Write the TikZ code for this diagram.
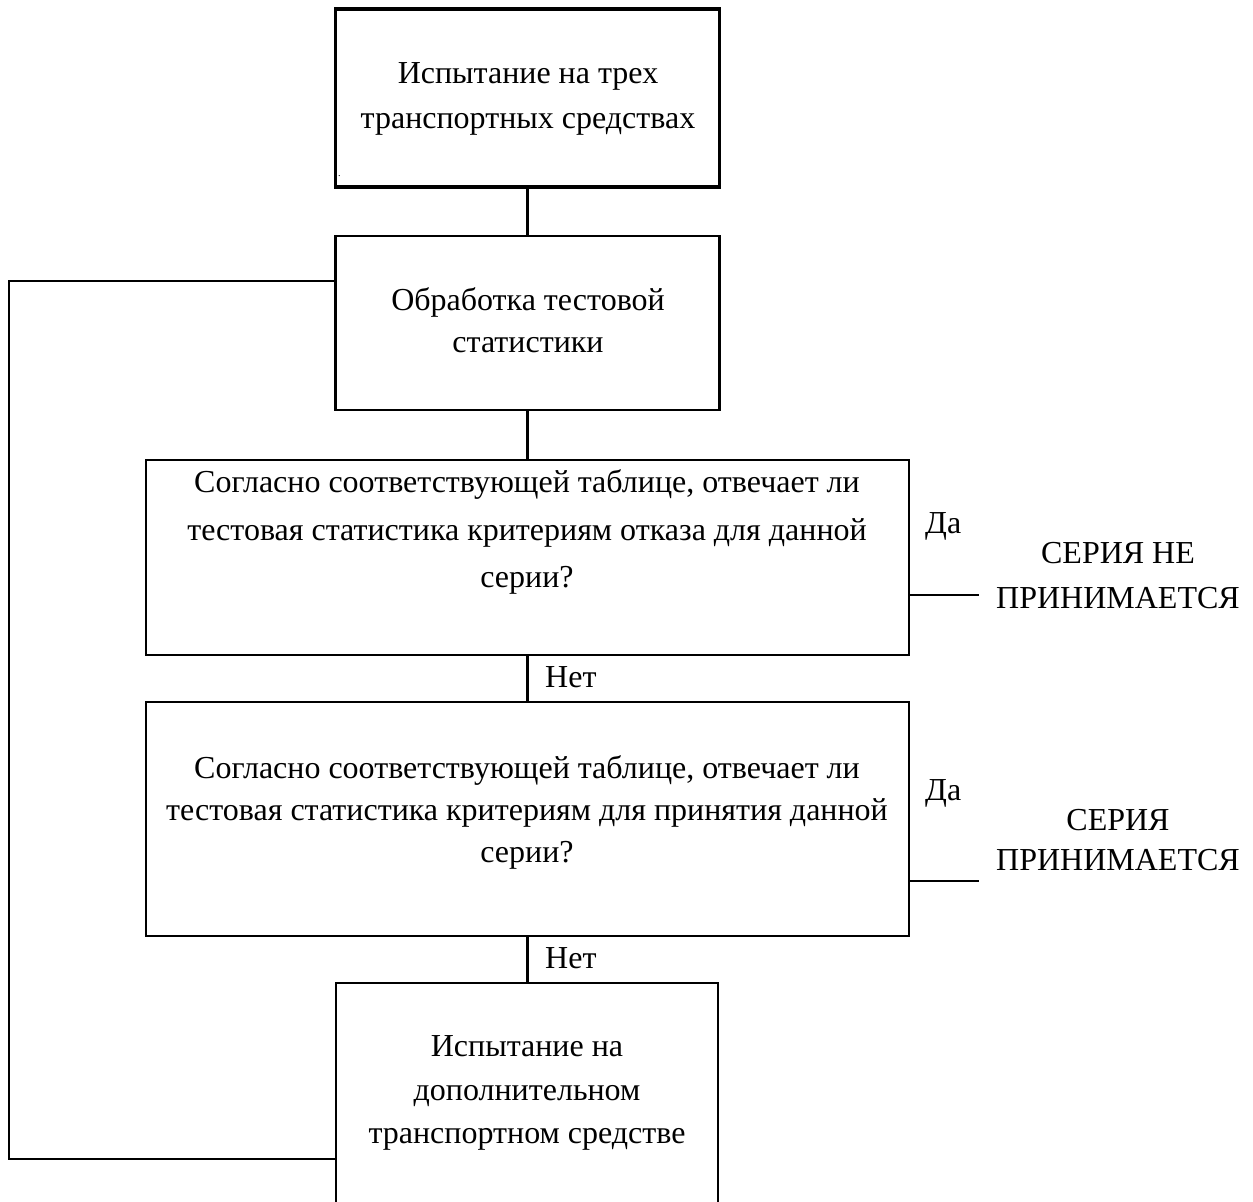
\documentclass[tikz,border=0pt]{standalone}
\usepackage{fontspec}
\setmainfont{Liberation Serif}
\begin{document}
\begin{tikzpicture}[x=1pt,y=-1pt,
  box/.style={draw,line width=2.2pt,inner sep=0pt,minimum width=#1},
  thickbox/.style={draw,line width=3.4pt,inner sep=0pt},
  conn/.style={line width=2.2pt},
  txt/.style={inner sep=0pt,anchor=base,font=\fontsize{32}{40}\selectfont},
  lbl/.style={inner sep=0pt,anchor=base west,font=\fontsize{32}{40}\selectfont}]
\useasboundingbox (0,0) rectangle (1253,1202);
\fill[white] (0,0) rectangle (1253,1202);
\clip (0,0) rectangle (1253,1202);
% boxes
\node[thickbox,minimum width=384pt,minimum height=178pt] (b1) at (527.5,98) {};
\node[box=384pt,minimum height=174pt] (b2) at (527.5,323) {};
\node[box=763pt,minimum height=195pt] (b3) at (527.5,557.5) {};
\node[box=763pt,minimum height=234pt] (b4) at (527.5,819) {};
\node[box=382pt,minimum height=247pt] (b5) at (527,1106.5) {};
% texts
\node[txt] (t1a) at (528,83) {Испытание на трех};
\node[txt] (t1b) at (528,128) {транспортных средствах};
\node[inner sep=0pt,font=\fontsize{10}{12}\selectfont,anchor=base west] (dot) at (338,176) {.};
\node[txt] (t2a) at (528,310) {Обработка тестовой};
\node[txt] (t2b) at (528,352) {статистики};
\node[txt] (t3a) at (527,492) {Согласно соответствующей таблице, отвечает ли};
\node[txt] (t3b) at (527,540) {тестовая статистика критериям отказа для данной};
\node[txt] (t3c) at (527,587) {серии?};
\node[txt] (t4a) at (527,778) {Согласно соответствующей таблице, отвечает ли};
\node[txt] (t4b) at (527,820) {тестовая статистика критериям для принятия данной};
\node[txt] (t4c) at (527,862) {серии?};
\node[txt] (t5a) at (527,1056) {Испытание на};
\node[txt] (t5b) at (527,1100) {дополнительном};
\node[txt] (t5c) at (527,1143) {транспортном средстве};
% labels
\node[lbl] (n1) at (545,687) {Нет};
\node[lbl] (n2) at (545,968) {Нет};
\node[lbl] (d1) at (925,533) {Да};
\node[lbl] (d2) at (925,800) {Да};
\node[txt] (s1a) at (1118,563) {СЕРИЯ НЕ};
\node[txt] (s1b) at (1118,608) {ПРИНИМАЕТСЯ};
\node[txt] (s2a) at (1118,830) {СЕРИЯ};
\node[txt] (s2b) at (1118,870) {ПРИНИМАЕТСЯ};
% coordinates
\coordinate (lp1) at (9,281);
\coordinate (lp2) at (9,1159);
\coordinate (r1) at (979,595);
\coordinate (r2) at (979,881);
% connectors
\draw[conn] (b1.south) -- (b2.north);
\draw[conn] (b2.south) -- (b3.north);
\draw[conn] (b3.south) -- (b4.north);
\draw[conn] (b4.south) -- (b4.south |- b5.north);
\draw[conn] (b2.west |- lp1) -- (lp1) -- (lp2) -- (b5.west |- lp2);
\draw[conn] (b3.east |- r1) -- (r1);
\draw[conn] (b4.east |- r2) -- (r2);
\end{tikzpicture}
\end{document}
